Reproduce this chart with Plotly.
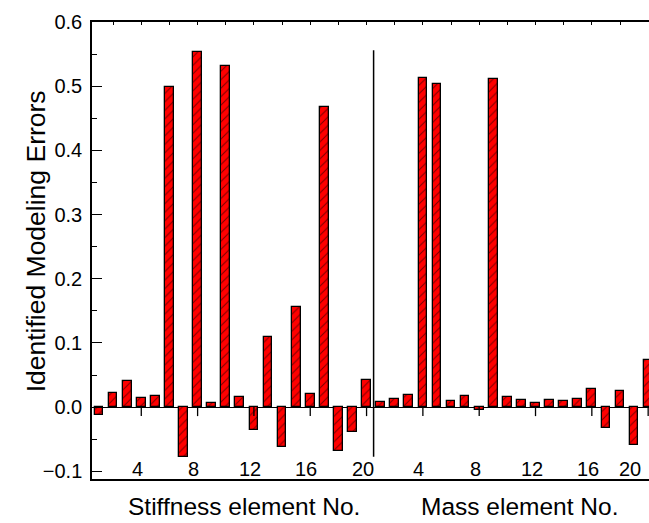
import plotly.graph_objects as go

# Identified modelling errors per element
stiffness_errors = [-0.012, 0.022, 0.040, 0.014, 0.018, 0.499, -0.078, 0.553, 0.007, 0.532,
                    0.015, -0.036, 0.110, -0.062, 0.156, 0.020, 0.467, -0.069, -0.039, 0.042]
mass_errors = [0.008, 0.012, 0.019, 0.512, 0.503, 0.009, 0.018, -0.005, 0.511, 0.016,
               0.011, 0.007, 0.011, 0.010, 0.012, 0.029, -0.032, 0.025, -0.059, 0.074]

n_stiff = len(stiffness_errors)
x_stiff = list(range(1, n_stiff + 1))
x_mass = [n_stiff + i for i in range(1, len(mass_errors) + 1)]

tick_pos = [4, 8, 12, 16, 20, 24, 28, 32, 36, 40]
tick_text = ["4", "8", "12", "16", "20", "4", "8", "12", "16", "20"]

x_range = [0.5, 40.06]
y_range = [-0.112, 0.6]
divider_x = 20.5
divider_y = [-0.0775, 0.556]

FONT = "Liberation Sans, Arial, sans-serif"

bar_style = dict(
    color="#ff0000",
    line=dict(color="black", width=1.3),
    pattern=dict(shape="/", fgcolor="black", bgcolor="#ff0000", size=6, solidity=0.18),
)

fig = go.Figure()
fig.add_trace(go.Bar(x=x_stiff + x_mass, y=stiffness_errors + mass_errors,
                     width=0.62, marker=bar_style, showlegend=False))

# vertical divider between the stiffness and mass groups
fig.add_trace(go.Scatter(x=[divider_x, divider_x], y=divider_y, mode="lines",
                         line=dict(color="black", width=1.5), xaxis="x2",
                         showlegend=False, hoverinfo="skip"))

# short ticks hanging below the zero line
for t in tick_pos:
    fig.add_shape(type="line", xref="x", yref="y", x0=t, x1=t,
                  ysizemode="pixel", yanchor=0, y0=0, y1=-9,
                  line=dict(color="black", width=1.3))

# tick labels sitting just above the bottom frame
for i, (t, s) in enumerate(zip(tick_pos, tick_text)):
    last = i == len(tick_pos) - 1
    fig.add_annotation(x=t, y=0, xref="x", yref="paper", text=s, showarrow=False,
                       xanchor="right" if last else "center", yanchor="bottom",
                       xshift=-5 if last else -4, yshift=-3,
                       font=dict(family=FONT, size=20, color="black"))

fig.add_annotation(x=0.273, y=-0.06, xref="paper", yref="paper", text="Stiffness element No.",
                   showarrow=False, xanchor="center", yanchor="middle",
                   font=dict(family=FONT, size=24.5, color="black"))
fig.add_annotation(x=0.767, y=-0.06, xref="paper", yref="paper", text="Mass element No.",
                   showarrow=False, xanchor="center", yanchor="middle",
                   font=dict(family=FONT, size=24.5, color="black"))

# y-axis title
fig.add_annotation(x=0, y=0.52, xref="paper", yref="paper", text="Identified Modeling Errors",
                   showarrow=False, textangle=-90, xanchor="center", yanchor="middle",
                   xshift=-56, font=dict(family=FONT, size=26.5, color="black"))

fig.update_layout(
    width=649, height=523,
    margin=dict(l=92, r=0, t=22, b=44),
    paper_bgcolor="white", plot_bgcolor="white",
    font=dict(family=FONT, size=20, color="black"),
    bargap=0,
    xaxis=dict(range=x_range, showline=True, mirror=True, linecolor="black", linewidth=1.5,
               ticks="", showticklabels=False, showgrid=False, zeroline=False),
    xaxis2=dict(range=x_range, overlaying="x", side="top", showline=False,
                ticks="inside", ticklen=3, tickwidth=1, tickcolor="black",
                tick0=0, dtick=2, showticklabels=False, showgrid=False, zeroline=False),
    yaxis=dict(range=y_range, showline=True, linecolor="black", linewidth=1.5,
               ticks="inside", ticklen=10, tickwidth=1.3, tickcolor="black",
               tick0=0, dtick=0.1, tickformat=".1f", ticklabelstandoff=4,
               minor=dict(ticks="inside", ticklen=5, tickwidth=1.1, tickcolor="black", dtick=0.05),
               showgrid=False, zeroline=True, zerolinecolor="black", zerolinewidth=1.2),
)

fig.write_html("out.html")
